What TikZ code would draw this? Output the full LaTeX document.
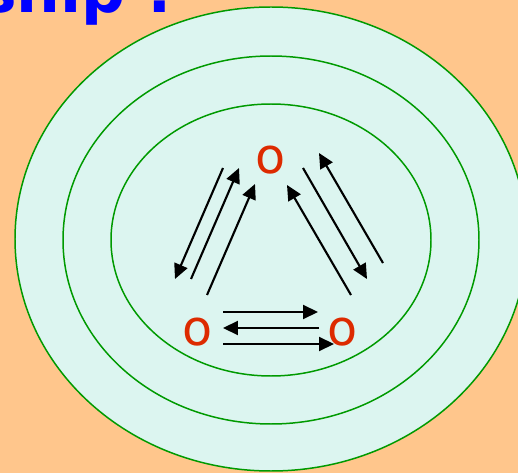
\documentclass[tikz,border=0pt]{standalone}
\usepackage{fontspec}
\setmainfont{DejaVu Sans}
\usepackage{tikz}
\usetikzlibrary{arrows.meta}

\definecolor{peach}{HTML}{FFC68C}
\definecolor{shell}{HTML}{DCF5F0}
\definecolor{ring}{HTML}{009A00}
\definecolor{atom}{HTML}{DD2A00}

\begin{document}
\begin{tikzpicture}[
        x=0.02cm,
        y=-0.02cm,
        shell/.style={draw=ring, fill=shell, line width=0.85pt},
        atom/.style={text=atom, font=\fontsize{28}{28}\selectfont, inner sep=0pt},
        bond/.style={line width=1.2pt, -{Triangle[length=0.3cm, width=0.28cm]}},
        >=Latex
    ]
        \useasboundingbox (0,0) rectangle (518,473);
        \fill[peach] (0,0) rectangle (518,473);

        % concentric shells
        \draw[shell] (271,239) ellipse [x radius=256, y radius=232];
        \draw[shell] (271,240) ellipse [x radius=208, y radius=184];
        \draw[shell] (271,240) ellipse [x radius=160, y radius=136];

        \node[text=blue, font=\bfseries\fontsize{35}{35}\selectfont, anchor=base west]
            (title) at (-26,13) {ship :};

        \node[atom] (top) at (271,160) {o};
        \node[atom] (left) at (198,332) {o};
        \node[atom] (right) at (343,332) {o};

        % arrow end points, tail then tip
        \foreach \n/\ax/\ay/\bx/\by in {
            1/223/168/175/279,
            2/191/279/239/168,
            3/207/295/255/184,
            4/303/168/367/279,
            5/383/263/319/153,
            6/351/295/287/185,
            7/223/312/318/312,
            8/319/328/223/328,
            9/223/344/334/344
        }{
            \coordinate (t\n) at (\ax,\ay);
            \coordinate (h\n) at (\bx,\by);
            \draw[bond] (t\n) -- (h\n);
        }
    \end{tikzpicture}
\end{document}
